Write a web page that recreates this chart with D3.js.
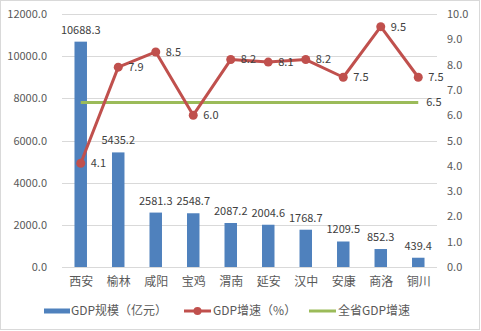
<!DOCTYPE html>
<html>
<head>
<meta charset="utf-8">
<script src="https://cdn.jsdelivr.net/npm/d3@7"></script>
<style>
  html, body { margin: 0; padding: 0; background: #fff; }
  svg text { font-family: "Noto Sans CJK SC", "Noto Sans", sans-serif; }
</style>
</head>
<body>
<svg id="chart" width="481" height="331"></svg>
<script>
// Cities of Shaanxi province
const cities = ["西安", "榆林", "咸阳", "宝鸡", "渭南", "延安", "汉中", "安康", "商洛", "铜川"];
// GDP scale (100 million yuan)
const gdpValues = [10688.3, 5435.2, 2581.3, 2548.7, 2087.2, 2004.6, 1768.7, 1209.5, 852.3, 439.4];
// GDP growth rate (%)
const growthValues = [4.1, 7.9, 8.5, 6.0, 8.2, 8.1, 8.2, 7.5, 9.5, 7.5];
// Province-wide GDP growth rate (%)
const provinceGrowth = 6.5;
const leftTicks = [0, 2000, 4000, 6000, 8000, 10000, 12000];
const rightTicks = [0, 1, 2, 3, 4, 5, 6, 7, 8, 9, 10];
const legendLabels = ["GDP规模（亿元）", "GDP增速（%）", "全省GDP增速"];

const blue = "#4F81BD", red = "#C0504D", green = "#9BBB59";
const textColor = "#595959", labelColor = "#404040", gridColor = "#d9d9d9";

const svg = d3.select("#chart");
const plot = { left: 62, right: 437, top: 14, bottom: 267 };

// outer frame
svg.append("rect")
  .attr("x", 0.5).attr("y", 0.5).attr("width", 479).attr("height", 329)
  .attr("fill", "#fff").attr("stroke", gridColor).attr("stroke-width", 1);

const x = d3.scaleBand().domain(cities).range([plot.left, plot.right]).paddingInner(0.667).paddingOuter(0.333);
const xc = d3.scalePoint().domain(cities).range([plot.left, plot.right]).padding(0.5);
const yL = d3.scaleLinear().domain([0, 12000]).range([plot.bottom, plot.top]);
const yR = d3.scaleLinear().domain([0, 10]).range([plot.bottom, plot.top]);

// horizontal gridlines
svg.append("g").selectAll("line").data(leftTicks).join("line")
  .attr("x1", plot.left).attr("x2", plot.right)
  .attr("y1", d => Math.round(yL(d)) + 0.5).attr("y2", d => Math.round(yL(d)) + 0.5)
  .attr("stroke", gridColor).attr("stroke-width", 1);

// left axis labels
const leftAxis = d3.axisLeft(yL).tickValues(leftTicks).tickFormat(d3.format(".1f")).tickSize(0).tickPadding(15);
const gL = svg.append("g").attr("transform", `translate(${plot.left},0)`).call(leftAxis);
gL.select(".domain").remove();
gL.selectAll("text").attr("fill", textColor).style("font-size", "11px");

// right axis labels
const rightAxis = d3.axisRight(yR).tickValues(rightTicks).tickFormat(d3.format(".1f")).tickSize(0).tickPadding(10);
const gR = svg.append("g").attr("transform", `translate(${plot.right},0)`).call(rightAxis);
gR.select(".domain").remove();
gR.selectAll("text").attr("fill", textColor).style("font-size", "11px");

// category axis labels
const xAxis = d3.axisBottom(xc).tickSize(0).tickPadding(10);
const gX = svg.append("g").attr("transform", `translate(0,${plot.bottom})`).call(xAxis);
gX.select(".domain").remove();
gX.selectAll("text").attr("fill", textColor).style("font-size", "12px");

// GDP bars
svg.append("g").selectAll("rect").data(gdpValues).join("rect")
  .attr("x", (d, i) => x(cities[i]))
  .attr("width", x.bandwidth())
  .attr("y", d => yL(d))
  .attr("height", d => yL(0) - yL(d))
  .attr("fill", blue);

svg.append("g").selectAll("text").data(gdpValues).join("text")
  .attr("x", (d, i) => xc(cities[i]))
  .attr("y", d => yL(d) - 8)
  .attr("text-anchor", "middle")
  .attr("fill", labelColor).style("font-size", "11px")
  .text(d => d.toFixed(1));

// province-wide growth line
svg.append("line")
  .attr("x1", xc(cities[0])).attr("x2", xc(cities[cities.length - 1]))
  .attr("y1", yR(provinceGrowth)).attr("y2", yR(provinceGrowth))
  .attr("stroke", green).attr("stroke-width", 3);
svg.append("text")
  .attr("x", xc(cities[cities.length - 1]) + 8).attr("y", yR(provinceGrowth))
  .attr("dy", "0.35em").attr("fill", labelColor).style("font-size", "11px")
  .text(provinceGrowth.toFixed(1));

// growth line with markers
const line = d3.line().x((d, i) => xc(cities[i])).y(d => yR(d));
svg.append("path").datum(growthValues)
  .attr("d", line).attr("fill", "none")
  .attr("stroke", red).attr("stroke-width", 3).attr("stroke-linejoin", "round");
svg.append("g").selectAll("circle").data(growthValues).join("circle")
  .attr("cx", (d, i) => xc(cities[i])).attr("cy", d => yR(d)).attr("r", 4.5)
  .attr("fill", red);
svg.append("g").selectAll("text").data(growthValues).join("text")
  .attr("x", (d, i) => xc(cities[i]) + 10).attr("y", d => yR(d))
  .attr("dy", "0.35em").attr("fill", labelColor).style("font-size", "11px")
  .text(d => d.toFixed(1));

// legend
const legY = 311;
const leg = svg.append("g");
leg.append("rect").attr("x", 44).attr("y", legY - 2.5).attr("width", 26).attr("height", 5).attr("fill", blue);
leg.append("text").attr("x", 71).attr("y", legY).attr("dy", "0.35em")
  .attr("fill", textColor).style("font-size", "12px").text(legendLabels[0]);
leg.append("line").attr("x1", 184).attr("x2", 211).attr("y1", legY).attr("y2", legY)
  .attr("stroke", red).attr("stroke-width", 3);
leg.append("circle").attr("cx", 197.5).attr("cy", legY).attr("r", 4).attr("fill", red);
leg.append("text").attr("x", 213).attr("y", legY).attr("dy", "0.35em")
  .attr("fill", textColor).style("font-size", "12px").text(legendLabels[1]);
leg.append("line").attr("x1", 309).attr("x2", 336).attr("y1", legY).attr("y2", legY)
  .attr("stroke", green).attr("stroke-width", 3);
leg.append("text").attr("x", 338).attr("y", legY).attr("dy", "0.35em")
  .attr("fill", textColor).style("font-size", "12px").text(legendLabels[2]);
</script>
</body>
</html>
